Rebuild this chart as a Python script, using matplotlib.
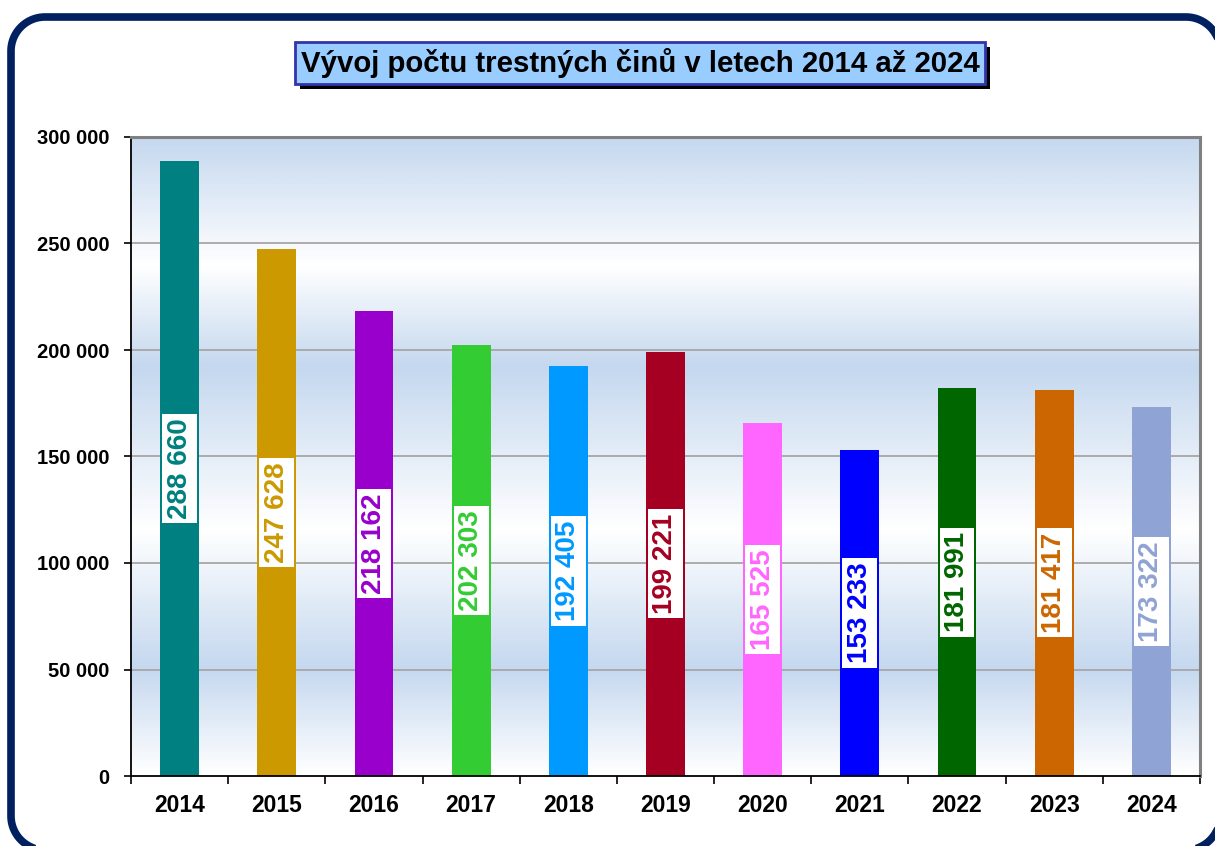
import matplotlib
matplotlib.use("Agg")
import matplotlib.pyplot as plt
import numpy as np
from matplotlib.colors import LinearSegmentedColormap
from matplotlib.patches import Rectangle
from matplotlib.lines import Line2D

plt.rcParams['font.family'] = ['Liberation Sans', 'DejaVu Sans']

years = ['2014', '2015', '2016', '2017', '2018', '2019', '2020', '2021', '2022', '2023', '2024']
values = [288660, 247628, 218162, 202303, 192405, 199221, 165525, 153233, 181991, 181417, 173322]
colors = ['#008080', '#cc9900', '#9900cc', '#33cc33', '#0099ff', '#a50021',
          '#ff66ff', '#0000ff', '#006600', '#cc6600', '#8fa3d4']
yticks = [0, 50000, 100000, 150000, 200000, 250000, 300000]
title = 'Vývoj počtu trestných činů v letech 2014 až 2024'

W, H = 1215, 846
fig = plt.figure(figsize=(W / 100, H / 100), dpi=100)
fig.patch.set_facecolor('white')

# outer rounded frame drawn in pixel coordinates (origin bottom-left)
def rounded_rect(x0, y0, x1, y1, r, m=30):
    pts = []
    corners = [(x1 - r, y1 - r, 0, 90), (x0 + r, y1 - r, 90, 180),
               (x0 + r, y0 + r, 180, 270), (x1 - r, y0 + r, 270, 360)]
    for cx, cy, a0, a1 in corners:
        a = np.radians(np.linspace(a0, a1, m))
        pts.extend(zip(cx + r * np.cos(a), cy + r * np.sin(a)))
    pts.append(pts[0])
    p = np.array(pts)
    return p[:, 0], p[:, 1]

fx, fy = rounded_rect(11, -4, 1220, H - 17, 34)
fig.add_artist(Line2D(fx, fy, transform=None, color='#002060', lw=5.5,
                      solid_joinstyle='round', zorder=5))

ax = fig.add_axes([131 / W, 1 - 776 / H, (1200 - 131) / W, (776 - 137) / H])
n = len(years)
x = np.arange(n)

# gradient background
blue = '#c5d8ef'
cmap = LinearSegmentedColormap.from_list('bg', [
    (0.0, 'white'), (50 / 300, blue), (115 / 300, 'white'),
    (192 / 300, blue), (240 / 300, 'white'), (1.0, blue)])
grad = np.linspace(0, 1, 600).reshape(-1, 1)
ax.imshow(grad, extent=[-0.5, n - 0.5, 0, 300000], origin='lower',
          aspect='auto', cmap=cmap, zorder=0, interpolation='bilinear')

ax.set_xlim(-0.5, n - 0.5)
ax.set_ylim(0, 300000)

for yv in yticks[1:-1]:
    ax.axhline(yv, color='#a6a6a6', lw=1.3, zorder=1)

ax.bar(x, values, width=0.40, color=colors, zorder=2)

for i, v in enumerate(values):
    ax.text(i, v / 2, f"{v:,}".replace(",", " "), rotation=90, ha='center', va='center',
            color=colors[i], fontsize=20, fontweight='bold', zorder=3,
            bbox=dict(boxstyle='square,pad=0.16', facecolor='white', edgecolor='none'))

# spines
for s in ['left', 'bottom']:
    ax.spines[s].set_color('black')
    ax.spines[s].set_linewidth(1.3)
for s in ['top', 'right']:
    ax.spines[s].set_color('#808080')
    ax.spines[s].set_linewidth(2.2)

ax.set_yticks(yticks)
ax.set_yticklabels([f"{v:,}".replace(",", " ") for v in yticks],
                   fontsize=14.5, fontweight='bold')
ax.tick_params(axis='y', direction='out', length=5, width=1.2, pad=10.5, colors='black')

ax.set_xticks(np.arange(-0.5, n, 1.0))
ax.set_xticklabels([])
ax.set_xticks(x, minor=True)
ax.set_xticklabels(years, minor=True, fontsize=16.5, fontweight='bold')
ax.tick_params(axis='x', which='major', direction='out', length=6, width=1.2)
ax.tick_params(axis='x', which='minor', length=0, pad=13)

# title with shadow
tx, ty = 640 / W, 1 - 63 / H
t = fig.text(tx, ty, title, ha='center', va='center', fontsize=21.2, fontweight='bold',
             color='black', zorder=4,
             bbox=dict(boxstyle='square,pad=0.2', facecolor='#99ccff', edgecolor='#3333aa', lw=2))
fig.canvas.draw()
bb = t.get_bbox_patch().get_window_extent()
shadow = Rectangle((bb.x0 + 5, bb.y0 - 5), bb.width, bb.height, transform=None,
                   facecolor='black', edgecolor='none', zorder=3)
fig.patches.append(shadow)

fig.savefig('out.png', dpi=100)
